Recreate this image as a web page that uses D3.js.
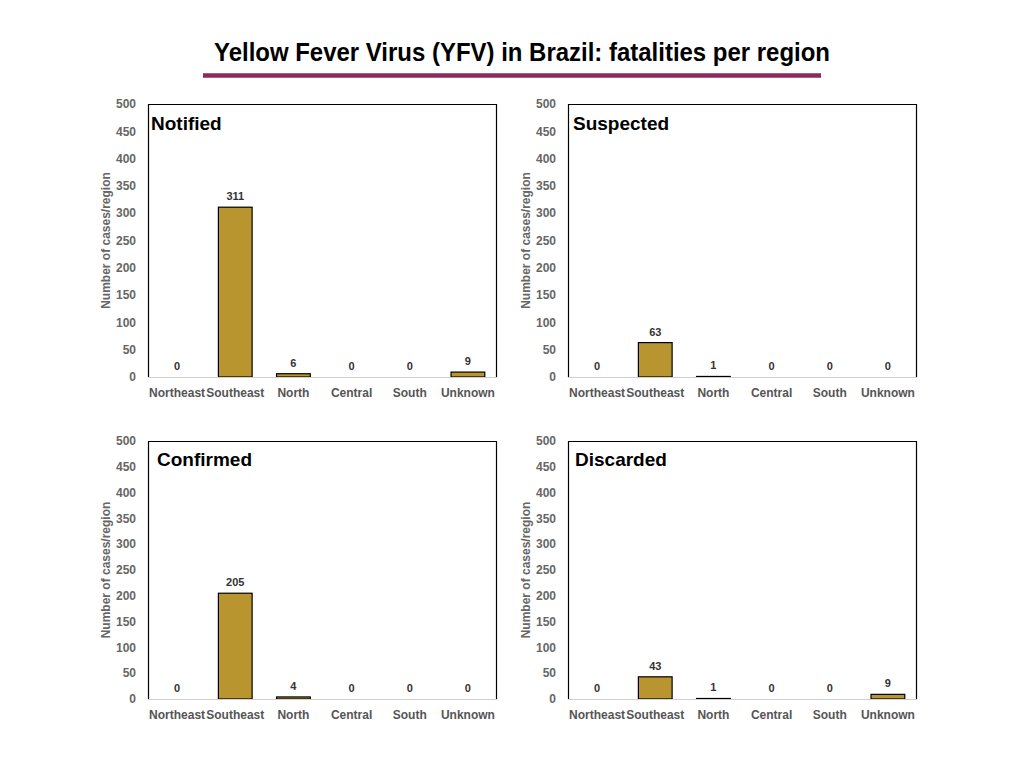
<!DOCTYPE html>
<html>
<head>
<meta charset="utf-8">
<script src="https://cdn.jsdelivr.net/npm/d3@7"></script>
<style>
  html, body { margin: 0; padding: 0; background: #fff; }
  svg { display: block; font-family: "Liberation Sans", Arial, Helvetica, sans-serif; }
</style>
</head>
<body>
<div id="chart"></div>
<script>
// ---------------------------------------------------------
// DATA
// ---------------------------------------------------------
const regions = ["Northeast", "Southeast", "North", "Central", "South", "Unknown"];
const panelNames = ["Notified", "Suspected", "Confirmed", "Discarded"];

const notified  = [0, 311, 6, 0, 0, 9];
const suspected = [0, 63, 1, 0, 0, 0];
const confirmed = [0, 205, 4, 0, 0, 0];
const discarded = [0, 43, 1, 0, 0, 9];

const yTicks = [0, 50, 100, 150, 200, 250, 300, 350, 400, 450, 500];

const titleText = "Yellow Fever Virus (YFV) in Brazil: fatalities per region";
const yLabel = "Number of cases/region";

// ---------------------------------------------------------
// LAYOUT
// ---------------------------------------------------------
const width = 1024, height = 768;
const barColor = "#b8952f";

const layout = [
  { x0: 148, x1: 497, top: 104, base: 377, titleX: 151, titleY: 130 },
  { x0: 568, x1: 917, top: 104, base: 377, titleX: 573, titleY: 130 },
  { x0: 148, x1: 497, top: 441, base: 699, titleX: 157, titleY: 466 },
  { x0: 568, x1: 917, top: 441, base: 699, titleX: 575, titleY: 466 }
];
const series = [notified, suspected, confirmed, discarded];

const svg = d3.select("#chart").append("svg")
  .attr("width", width)
  .attr("height", height);

// title + underline
const title = svg.append("text")
  .attr("x", 522)
  .attr("y", 61)
  .attr("text-anchor", "middle")
  .style("font-size", "25px")
  .style("font-weight", "bold")
  .style("fill", "#000")
  .text(titleText);
if (title.node().getComputedTextLength() > 616) {
  title.attr("textLength", 616).attr("lengthAdjust", "spacingAndGlyphs");
}

svg.append("line")
  .attr("x1", 203).attr("x2", 821)
  .attr("y1", 75.5).attr("y2", 75.5)
  .attr("stroke", "#8b2a5b")
  .attr("stroke-width", 4.5);

// ---------------------------------------------------------
// PANELS
// ---------------------------------------------------------
layout.forEach((p, i) => {
  const values = series[i];
  const g = svg.append("g");

  const x = d3.scaleBand().domain(regions).range([p.x0, p.x1]).padding(0);
  const y = d3.scaleLinear().domain([0, 500]).range([p.base, p.top]);
  const barW = x.bandwidth() * 0.58;

  // frame (top, left, right)
  g.append("path")
    .attr("d", `M${p.x0 + 0.5},${p.base}V${p.top + 0.5}H${p.x1 - 0.5}V${p.base}`)
    .attr("fill", "none")
    .attr("stroke", "#000")
    .attr("stroke-width", 1.2);

  // y tick labels
  g.selectAll("text.ytick")
    .data(yTicks)
    .enter().append("text")
    .attr("class", "ytick")
    .attr("x", p.x0 - 12)
    .attr("y", d => y(d))
    .attr("dy", "0.35em")
    .attr("text-anchor", "end")
    .style("font-size", "12px")
    .style("font-weight", "bold")
    .style("fill", "#666")
    .text(d => d);

  // y axis title
  g.append("text")
    .attr("transform", `translate(${p.x0 - 38},${(p.top + p.base) / 2}) rotate(-90)`)
    .attr("text-anchor", "middle")
    .style("font-size", "12px")
    .style("font-weight", "bold")
    .style("fill", "#666")
    .text(yLabel);

  // bars
  g.selectAll("rect.bar")
    .data(values)
    .enter().append("rect")
    .attr("class", "bar")
    .attr("x", (d, j) => x(regions[j]) + (x.bandwidth() - barW) / 2)
    .attr("y", d => y(d))
    .attr("width", barW)
    .attr("height", d => p.base - y(d))
    .attr("fill", barColor)
    .attr("stroke", d => d > 0 ? "#000" : "none")
    .attr("stroke-width", 1.2);

  // baseline
  g.append("line")
    .attr("x1", p.x0).attr("x2", p.x1)
    .attr("y1", p.base + 0.5).attr("y2", p.base + 0.5)
    .attr("stroke", "#cfcfcf")
    .attr("stroke-width", 1.2);

  // value labels
  g.selectAll("text.val")
    .data(values)
    .enter().append("text")
    .attr("class", "val")
    .attr("x", (d, j) => x(regions[j]) + x.bandwidth() / 2)
    .attr("y", d => y(d) - 7)
    .attr("text-anchor", "middle")
    .style("font-size", "11px")
    .style("font-weight", "bold")
    .style("fill", "#333")
    .text(d => d);

  // category labels
  g.selectAll("text.cat")
    .data(regions)
    .enter().append("text")
    .attr("class", "cat")
    .attr("x", d => x(d) + x.bandwidth() / 2)
    .attr("y", p.base + 20)
    .attr("text-anchor", "middle")
    .style("font-size", "12px")
    .style("font-weight", "bold")
    .style("fill", "#555")
    .text(d => d);

  // panel title
  g.append("text")
    .attr("x", p.titleX)
    .attr("y", p.titleY)
    .style("font-size", "19px")
    .style("font-weight", "bold")
    .style("fill", "#000")
    .text(panelNames[i]);
});
</script>
</body>
</html>
